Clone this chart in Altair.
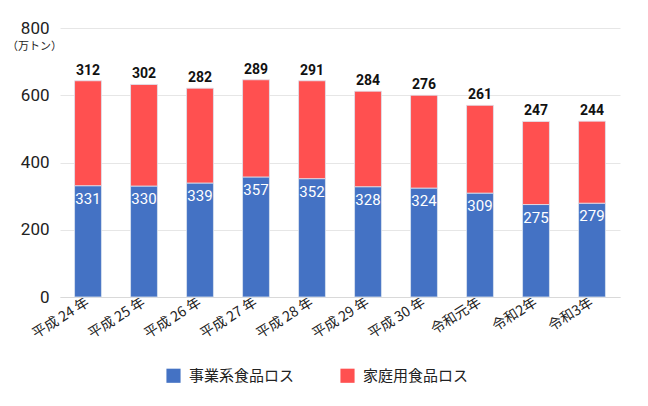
import altair as alt
import pandas as pd

years = ["平成 24 年", "平成 25 年", "平成 26 年", "平成 27 年", "平成 28 年",
         "平成 29 年", "平成 30 年", "令和元年", "令和2年", "令和3年"]
business = [331, 330, 339, 357, 352, 328, 324, 309, 275, 279]
household = [312, 302, 282, 289, 291, 284, 276, 261, 247, 244]
series = ["事業系食品ロス", "家庭用食品ロス"]
colors = ["#4472C4", "#FF5050"]

rows = []
for i, y in enumerate(years):
    rows.append({"year": y, "series": series[0], "value": business[i], "order": 0})
    rows.append({"year": y, "series": series[1], "value": household[i], "order": 1})
df = pd.DataFrame(rows)
tot = pd.DataFrame({"year": years, "business": business, "household": household,
                    "total": [b + h for b, h in zip(business, household)]})

FONT = "Noto Sans CJK JP"

xenc = alt.X("year:N", sort=years, title=None,
             scale=alt.Scale(paddingInner=0.52, paddingOuter=0.26),
             axis=alt.Axis(labelAngle=-32, labelFontSize=14, labelColor="#222",
                           labelFont=FONT, ticks=False, domainColor="#d9d9d9",
                           labelPadding=4, labelAlign="right", labelBaseline="middle"))

bars = alt.Chart(df).mark_bar(stroke="#dde4f0", strokeWidth=0.8).encode(
    x=xenc,
    y=alt.Y("value:Q", stack="zero", title="（万トン）",
            scale=alt.Scale(domain=[0, 800]),
            axis=alt.Axis(values=[0, 200, 400, 600, 800], labelFontSize=17,
                          labelColor="#222", labelFont="Roboto", ticks=False,
                          domain=False, gridColor="#e6e6e6", labelPadding=11,
                          titleAngle=0, titleX=-26, titleY=18, titleAlign="center",
                          titleBaseline="middle",
                          titleFontSize=11, titleFontWeight="normal", titleFont=FONT,
                          titleColor="#222")),
    color=alt.Color("series:N", sort=series,
                    scale=alt.Scale(domain=series, range=colors),
                    legend=alt.Legend(title=None, orient="none", direction="horizontal",
                                      legendX=106, legendY=340, symbolType="square",
                                      symbolSize=200, symbolStrokeWidth=0,
                                      labelFontSize=15, labelFont=FONT, labelColor="#222",
                                      columnPadding=45, labelOffset=8)),
    order=alt.Order("order:Q"),
)

inner = alt.Chart(tot).mark_text(color="white", fontSize=15, font="Roboto",
                                 baseline="middle", dy=13).encode(
    x=alt.X("year:N", sort=years),
    y=alt.Y("business:Q"),
    text=alt.Text("business:Q"),
)

top = alt.Chart(tot).mark_text(color="#111", fontSize=14, font="Roboto",
                               fontWeight="bold", baseline="bottom", dy=-3).encode(
    x=alt.X("year:N", sort=years),
    y=alt.Y("total:Q"),
    text=alt.Text("household:Q"),
)

chart = alt.layer(bars, inner, top).properties(
    width=560, height=269,
    autosize=alt.AutoSizeParams(type="none"),
    padding={"left": 60, "top": 28, "right": 28, "bottom": 109},
).configure(background="white").configure_view(stroke=None)

chart.save("out.html", embed_options={"renderer": "svg", "actions": False})
